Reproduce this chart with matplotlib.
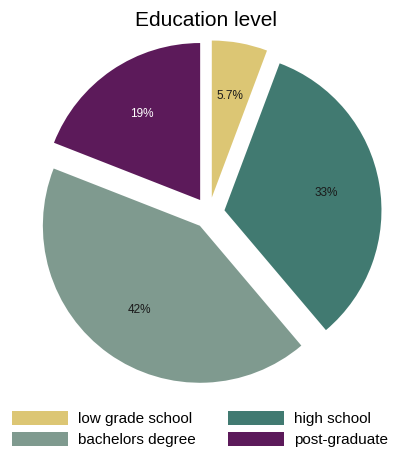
import matplotlib.pyplot as plt
from matplotlib.patches import Patch

# Data
categories = ["low grade school", "high school", "bachelors degree", "post-graduate"]
shares = [5.7, 33, 42, 19]
colors = ["#dcc674", "#417a71", "#7f9a8f", "#5c1a5a"]
label_colors = ["#1a1a1a", "#1a1a1a", "#1a1a1a", "white"]

plt.rcParams["font.family"] = ["Liberation Sans", "DejaVu Sans"]

fig = plt.figure(figsize=(3.96, 4.54), dpi=100)
ax = fig.add_axes([0, 0, 1, 1])

# pie centre at about (209, 213) px, radius about 157 px
r_px = 157.0
cx, cy = 209.0, 213.0

wedges, texts, autotexts = ax.pie(
    shares,
    colors=colors,
    startangle=90,
    counterclock=False,
    explode=[0.1] * len(shares),
    autopct=lambda p: f"{p:.2g}%",
    pctdistance=0.66,
    textprops={"fontsize": 8.5},
)
for t, c in zip(autotexts, label_colors):
    t.set_color(c)

ax.set_aspect("auto")
ax.set_xlim(-cx / r_px, (396 - cx) / r_px)
ax.set_ylim((cy - 454) / r_px, cy / r_px)
ax.axis("off")

fig.text(0.52, 1 - 20 / 454, "Education level", ha="center", va="center", fontsize=15)

# legend is filled row by row in the reference, matplotlib fills by column
handles = [Patch(facecolor=c, edgecolor="none") for c in colors]
order = [0, 2, 1, 3]
fig.legend(
    [handles[i] for i in order], [categories[i] for i in order],
    loc="center", bbox_to_anchor=(0.505, 1 - 429 / 454),
    ncol=2, frameon=False, fontsize=11,
    handlelength=3.7, handleheight=1.0,
    handletextpad=0.65, columnspacing=2.1, labelspacing=0.4,
)

fig.savefig("out.png", dpi=100)
